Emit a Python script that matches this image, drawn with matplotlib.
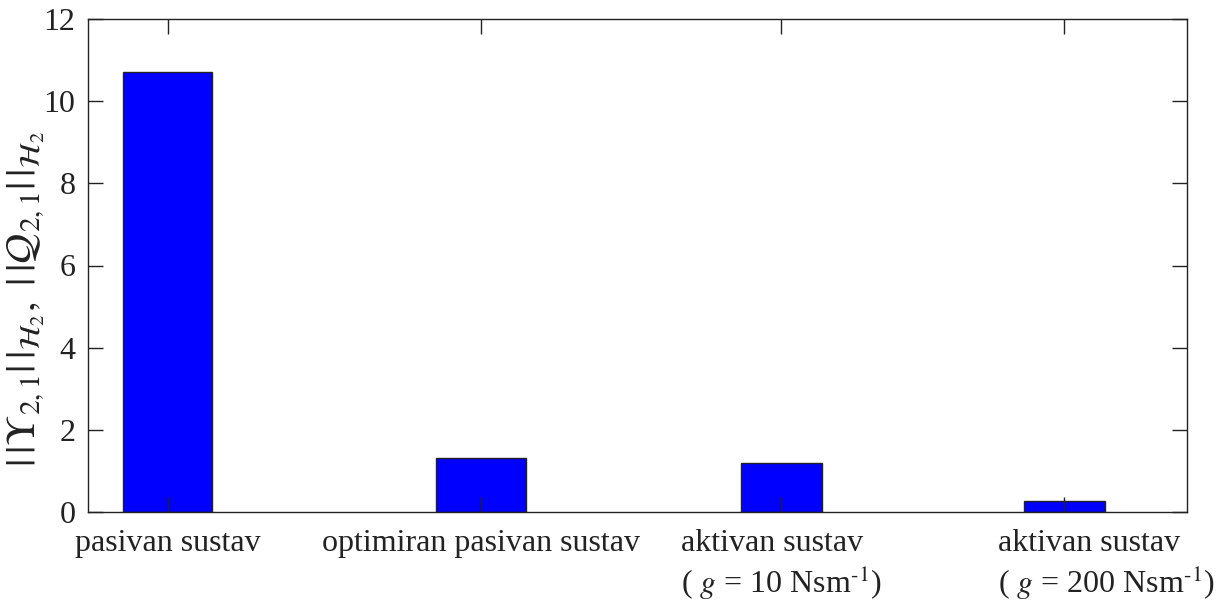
import matplotlib
matplotlib.use('Agg')
import matplotlib.pyplot as plt
from matplotlib.transforms import ScaledTranslation

# bar values
categories = ['pasivan sustav',
              'optimiran pasivan sustav',
              'aktivan sustav\n( $g$ = 10 Nsm$^{\\text{-1}}$)',
              'aktivan sustav\n( $g$ = 200 Nsm$^{\\text{-1}}$)']
values = [10.71, 1.31, 1.20, 0.27]
positions = [0.80, 3.93, 6.94, 9.77]
yticks = [0, 2, 4, 6, 8, 10, 12]

plt.rcParams['font.family'] = ['Liberation Serif', 'DejaVu Serif']
plt.rcParams['mathtext.fontset'] = 'stix'

fig = plt.figure(figsize=(12.28, 6.01), dpi=100)
ax = fig.add_axes([88/1228, 89/601, 1099/1228, 493/601])

widths = [0.89, 0.90, 0.81, 0.81]
ax.bar(positions, values, width=widths, color='#0000ff', edgecolor='#222222', linewidth=1.0)

ax.set_xlim(0, 11)
ax.set_ylim(0, 12)
ax.set_yticks(yticks)
ax.set_xticks(positions)
ax.set_xticklabels(categories)
ax.tick_params(direction='in', length=11, width=1.0, top=True, right=True,
               labelsize=23, colors='#222222', pad=12)
ax.tick_params(axis='y', pad=9)
for lab in ax.get_xticklabels():
    lab.set_multialignment('left')
# last label sits right of its tick in the original
last = ax.get_xticklabels()[-1]
last.set_transform(last.get_transform() + ScaledTranslation(0.42, 0, fig.dpi_scale_trans))
for s in ax.spines.values():
    s.set_linewidth(1.0)
    s.set_color('#222222')

ax.set_ylabel(r'$|\,|\Upsilon_{2,1}|\,|_{\mathcal{H}_2},\ |\,|\mathcal{Q}_{2,1}|\,|_{\mathcal{H}_2}$',
              fontsize=30, color='#222222', va='center')
ax.yaxis.set_label_coords(-0.056, 0.432)

fig.savefig('out.png', dpi=100)
